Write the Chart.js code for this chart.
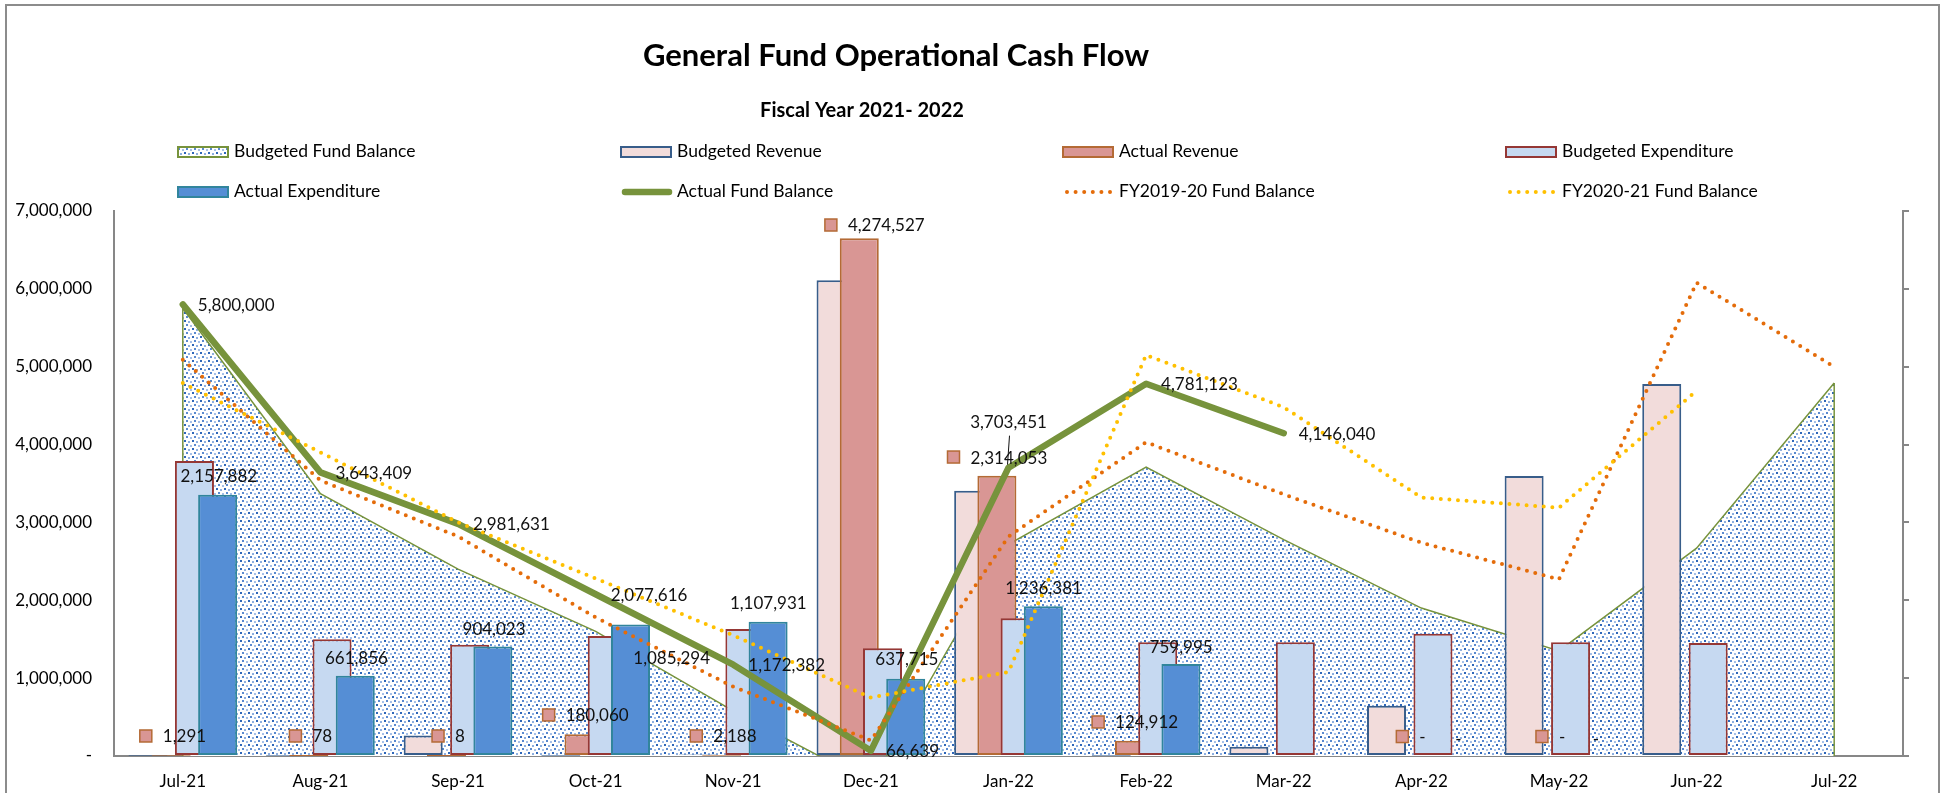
<!DOCTYPE html>
<html>
<head>
<meta charset="utf-8">
<title>General Fund Operational Cash Flow</title>
<script src="https://cdn.jsdelivr.net/npm/chart.js@4.4.1/dist/chart.umd.min.js"></script>
<style>
  html, body { margin: 0; padding: 0; background: #fff; }
  #wrap { width: 1942px; height: 793px; position: relative; }
</style>
</head>
<body>
<div id="wrap"><canvas id="cashflow"></canvas></div>
<script>
// ---- data ----
var months = ['Jul-21','Aug-21','Sep-21','Oct-21','Nov-21','Dec-21','Jan-22','Feb-22','Mar-22','Apr-22','May-22','Jun-22','Jul-22'];

// fund balances (left axis)
var budgetedFundBalance = [5750000, 3370000, 2400000, 1600000, 580000, -350000, 2720000, 3710000, 2780000, 1900000, 1350000, 2670000, 4790000];
var actualFundBalance   = [5800000, 3643409, 2981631, 2077616, 1172382, 66639, 3703451, 4781123, 4146040, null, null, null, null];
var fy1920Balance       = [5090000, 3540000, 2820000, 1780000, 890000, 200000, 2820000, 4030000, 3360000, 2740000, 2270000, 6080000, 5000000];
var fy2021Balance       = [4790000, 3900000, 3000000, 2280000, 1550000, 750000, 1080000, 5150000, 4480000, 3320000, 3190000, 4690000, null];

// revenue / expenditure (right axis)
var budgetedRevenue     = [3000, 3000, 170000, 3000, 12000, 3928000, 2190000, 3000, 77000, 415000, 2312000, 3071000, null];
var actualRevenue       = [1291, 78, 8, 180060, 2188, 4274527, 2314053, 124912, null, 0, 0, null, null];
var budgetedExpenditure = [2436000, 964000, 919000, 990000, 1048000, 889000, 1137000, 939000, 939000, 1009000, 939000, 932000, null];
var actualExpenditure   = [2157882, 661856, 904023, 1085294, 1107931, 637715, 1236381, 759995, null, 0, 0, null, null];

// ---- label placement (dx in px from month, y in left-axis units) ----
var revLabelPlace = [[-37,257000],[-25,257000],[-20,257000],[-47,527000],[-37,257000],[-40,6820000],[-55,3840000],[-48,437000],null,[-19,250000],[-17,250000],null,null];
var expLabelPlace = [[36,3600000],[36,1270000],[36,1640000],[76,1260000],[35,1970000],[36,1250000],[35,2160000],[35,1410000],null,[37,230000],[37,230000],null,null];
var afbLabelAbove = [6]; // Jan-22 label sits above with a leader line

var FONT = 'Lato';
var fmt = function(v){ return v === 0 ? '-' : v.toLocaleString('en-US'); };

// speckled fill used by the budgeted balance area
function dotPattern(){
  var c = document.createElement('canvas');
  c.width = 8; c.height = 8;
  var g = c.getContext('2d');
  g.fillStyle = '#fff'; g.fillRect(0,0,8,8);
  [[0,0,'#2f67b9'],[4,1,'#8fb0e0'],[2,4,'#5a8ad0'],[6,5,'#a6c0e8']].forEach(function(d){
    g.fillStyle = d[2];
    g.fillRect(d[0], d[1], 2, 2);
  });
  return g.createPattern(c, 'repeat');
}
var pattern = dotPattern();

var green = '#77933C', orange = '#E46C0A', yellow = '#FFC000';

var decor = {
  id: 'decor',
  beforeDraw: function(chart){
    var ctx = chart.ctx;
    ctx.save();
    ctx.fillStyle = '#fff';
    ctx.fillRect(0, 0, chart.width, chart.height);
    ctx.strokeStyle = '#8c8c8c';
    ctx.lineWidth = 2;
    ctx.strokeRect(6, 5, chart.width - 9, chart.height + 10);
    ctx.restore();
  },
  beforeDatasetDraw: function(chart, args){
    if (args.meta.type === 'bar') return false;
  },
  afterDatasetDraw: function(chart, args){
    if (args.index !== 0) return;
    var ctx = chart.ctx, area = chart.chartArea;
    var pts = args.meta.data;
    ctx.save();
    ctx.beginPath(); ctx.rect(area.left, area.top, area.width, area.height); ctx.clip();
    ctx.strokeStyle = green; ctx.lineWidth = 1.5;
    [pts[0], pts[pts.length - 1]].forEach(function(p){
      ctx.beginPath(); ctx.moveTo(p.x, p.y); ctx.lineTo(p.x, area.bottom); ctx.stroke();
    });
    // columns: later series on top
    [1, 2, 3, 4].forEach(function(i){ chart.getDatasetMeta(i).controller.draw(); });
    ctx.restore();
  },
  afterDatasetsDraw: function(chart){
    var ctx = chart.ctx, xs = chart.scales.x, ys = chart.scales.y;
    ctx.save();
    ctx.font = '17px ' + FONT;
    ctx.fillStyle = '#111';
    ctx.textBaseline = 'middle';

    // actual fund balance labels
    var afb = chart.getDatasetMeta(5).data;
    actualFundBalance.forEach(function(v, i){
      if (v === null) return;
      var p = afb[i];
      if (afbLabelAbove.indexOf(i) >= 0) {
        ctx.textAlign = 'center';
        ctx.fillText(fmt(v), p.x, p.y - 45);
        ctx.strokeStyle = '#111'; ctx.lineWidth = 1;
        ctx.beginPath(); ctx.moveTo(p.x + 1, p.y - 32); ctx.lineTo(p.x - 1, p.y - 3); ctx.stroke();
      } else {
        ctx.textAlign = 'left';
        ctx.fillText(fmt(v), p.x + 15, p.y + 1);
      }
    });

    // actual revenue labels with legend key
    var ar = chart.data.datasets[2];
    actualRevenue.forEach(function(v, i){
      var pl = revLabelPlace[i];
      if (v === null || !pl) return;
      var cx = xs.getPixelForValue(i) + pl[0], cy = ys.getPixelForValue(pl[1]);
      ctx.fillStyle = ar.backgroundColor;
      ctx.fillRect(cx - 6, cy - 6, 12, 12);
      ctx.strokeStyle = ar.borderColor; ctx.lineWidth = 1.5;
      ctx.strokeRect(cx - 6, cy - 6, 12, 12);
      ctx.fillStyle = '#111';
      ctx.textAlign = 'left';
      ctx.fillText(fmt(v), cx + 17, cy + 1);
    });

    // actual expenditure labels
    actualExpenditure.forEach(function(v, i){
      var pl = expLabelPlace[i];
      if (v === null || !pl) return;
      ctx.textAlign = 'center';
      ctx.fillText(fmt(v), xs.getPixelForValue(i) + pl[0], ys.getPixelForValue(pl[1]) + 1);
    });
    ctx.restore();
  },
  afterDraw: function(chart){
    var ctx = chart.ctx;
    ctx.save();
    ctx.fillStyle = '#000';
    ctx.textAlign = 'center';
    ctx.textBaseline = 'alphabetic';
    ctx.font = 'bold 31px ' + FONT;
    ctx.fillText('General Fund Operational Cash Flow', 896, 66);
    ctx.font = 'bold 20px ' + FONT;
    ctx.fillText('Fiscal Year 2021- 2022', 862, 117);

    // legend, four columns by two rows
    var cols = [178, 621, 1063, 1506], rows = [157, 197];
    var legendOrder = [0, 1, 2, 3, 4, 5, 6, 7];
    ctx.font = '17.5px ' + FONT;
    ctx.textAlign = 'left';
    legendOrder.forEach(function(di, n){
      var ds = chart.data.datasets[di];
      var x = cols[n % 4], base = rows[Math.floor(n / 4)];
      var mid = base - 5;
      if (ds.type === 'line' && !ds.fill) {
        ctx.save();
        ctx.strokeStyle = ds.borderColor;
        ctx.lineWidth = ds.borderWidth;
        ctx.lineCap = 'round';
        ctx.setLineDash(ds.borderDash || []);
        ctx.beginPath();
        ctx.moveTo(x + 4, mid); ctx.lineTo(x + 48, mid);
        ctx.stroke();
        ctx.restore();
      } else {
        ctx.fillStyle = ds.backgroundColor;
        ctx.fillRect(x, base - 10, 50, 10);
        ctx.strokeStyle = ds.borderColor;
        ctx.lineWidth = 2;
        ctx.strokeRect(x, base - 10, 50, 10);
      }
      ctx.fillStyle = '#000';
      ctx.fillText(ds.label, x + 56, base);
    });
    ctx.restore();
  }
};

var barStyle = { borderWidth: 2, borderSkipped: false, yAxisID: 'y2', categoryPercentage: 0.675, barPercentage: 1.68 };

new Chart(document.getElementById('cashflow'), {
  type: 'bar',
  data: {
    labels: months,
    datasets: [
      { type: 'line', label: 'Budgeted Fund Balance', data: budgetedFundBalance, yAxisID: 'y', order: 10,
        fill: 'origin', backgroundColor: pattern, borderColor: green, borderWidth: 1.5, pointRadius: 0, tension: 0 },
      Object.assign({ label: 'Budgeted Revenue', data: budgetedRevenue, order: 3,
        backgroundColor: '#F2DCDB', borderColor: '#385D8A' }, barStyle),
      Object.assign({ label: 'Actual Revenue', data: actualRevenue, order: 4,
        backgroundColor: '#D99694', borderColor: '#B46A35' }, barStyle),
      Object.assign({ label: 'Budgeted Expenditure', data: budgetedExpenditure, order: 5,
        backgroundColor: '#C6D9F1', borderColor: '#953735' }, barStyle),
      Object.assign({ label: 'Actual Expenditure', data: actualExpenditure, order: 6,
        backgroundColor: '#558ED5', borderColor: '#31859C' }, barStyle),
      { type: 'line', label: 'Actual Fund Balance', data: actualFundBalance, yAxisID: 'y', order: 2,
        borderColor: green, borderWidth: 6.5, borderCapStyle: 'round', borderJoinStyle: 'round', pointRadius: 0, tension: 0 },
      { type: 'line', label: 'FY2019-20 Fund Balance', data: fy1920Balance, yAxisID: 'y', order: 1,
        borderColor: orange, borderWidth: 4, borderDash: [0, 8.6], borderCapStyle: 'round', pointRadius: 0, tension: 0 },
      { type: 'line', label: 'FY2020-21 Fund Balance', data: fy2021Balance, yAxisID: 'y', order: 0,
        borderColor: yellow, borderWidth: 4, borderDash: [0, 8.6], borderCapStyle: 'round', pointRadius: 0, tension: 0 }
    ]
  },
  options: {
    responsive: true,
    maintainAspectRatio: false,
    animation: false,
    layout: { padding: { top: 211, left: 0, right: 0, bottom: 0 } },
    plugins: {
      legend: { display: false },
      title: { display: false },
      tooltip: { enabled: false }
    },
    scales: {
      x: {
        offset: true,
        grid: { display: false, drawTicks: false },
        border: { color: '#878787', width: 2 },
        ticks: { font: { family: FONT, size: 17 }, color: '#000', padding: 15, maxRotation: 0, autoSkip: false },
        afterFit: function(s){ s.height = 37; }
      },
      y: {
        position: 'left',
        min: 0, max: 7000000,
        grid: { display: false, drawTicks: false },
        border: { color: '#878787', width: 2 },
        ticks: { stepSize: 1000000, font: { family: FONT, size: 17 }, color: '#000', padding: 22,
                 callback: function(v){ return fmt(v); } },
        afterFit: function(s){ s.width = 114; }
      },
      y2: {
        position: 'right',
        min: 0, max: 4500000,
        grid: { drawOnChartArea: false, drawTicks: true, tickLength: 6, color: '#878787', lineWidth: 2 },
        border: { color: '#878787', width: 2 },
        ticks: { display: false, count: 8 },
        afterFit: function(s){ s.width = 39; }
      }
    }
  },
  plugins: [decor]
});
</script>
</body>
</html>
